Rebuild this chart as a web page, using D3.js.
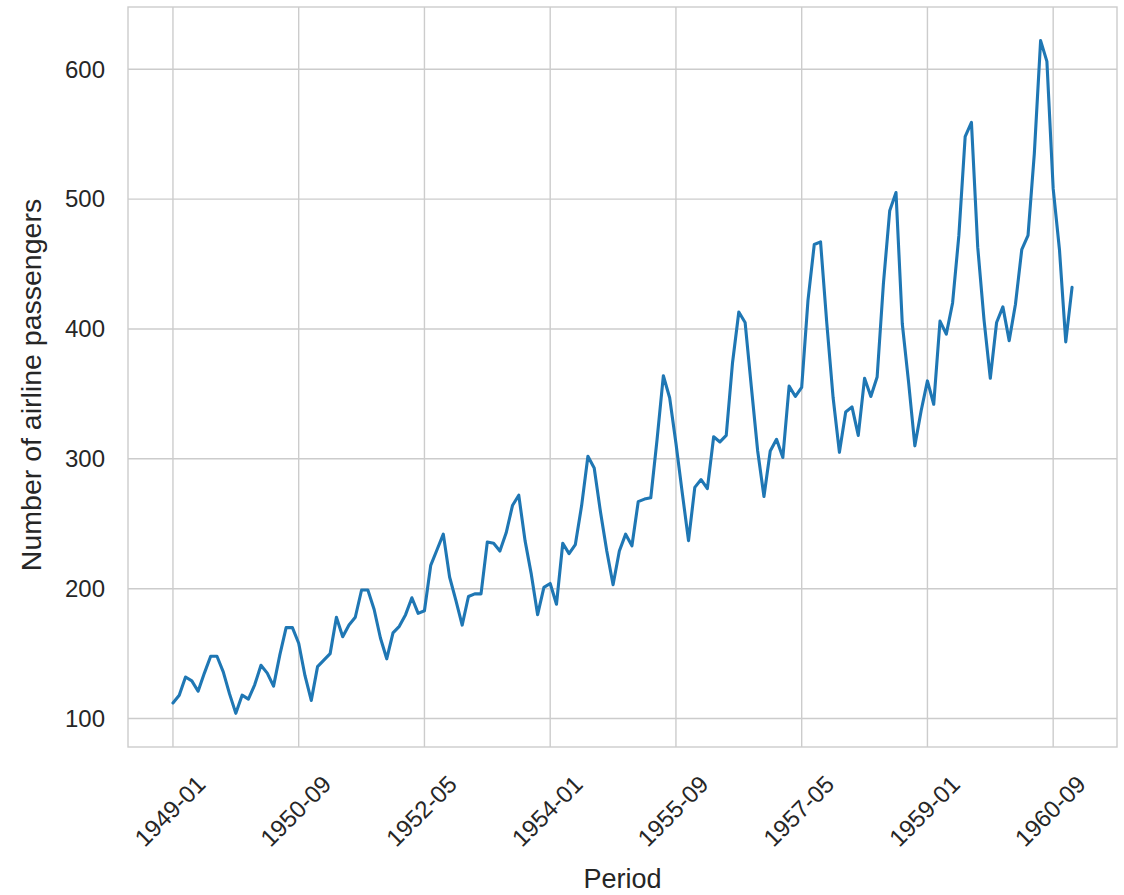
<!DOCTYPE html>
<html>
<head>
<meta charset="utf-8">
<script src="https://cdn.jsdelivr.net/npm/d3@7"></script>
<style>
  body { margin: 0; background: #fff; }
  text { font-family: "Liberation Sans", Arial, sans-serif; fill: #262626; }
</style>
</head>
<body>
<div id="chart"></div>
<script>
// Monthly airline passengers, 1949-01 .. 1960-12
var years = d3.range(1949, 1961);
var months = ["01","02","03","04","05","06","07","08","09","10","11","12"];
var periods = [];
years.forEach(function(y){ months.forEach(function(m){ periods.push(y + "-" + m); }); });

var passengers = [
  112, 118, 132, 129, 121, 135, 148, 148, 136, 119, 104, 118,
  115, 126, 141, 135, 125, 149, 170, 170, 158, 133, 114, 140,
  145, 150, 178, 163, 172, 178, 199, 199, 184, 162, 146, 166,
  171, 180, 193, 181, 183, 218, 230, 242, 209, 191, 172, 194,
  196, 196, 236, 235, 229, 243, 264, 272, 237, 211, 180, 201,
  204, 188, 235, 227, 234, 264, 302, 293, 259, 229, 203, 229,
  242, 233, 267, 269, 270, 315, 364, 347, 312, 274, 237, 278,
  284, 277, 317, 313, 318, 374, 413, 405, 355, 306, 271, 306,
  315, 301, 356, 348, 355, 422, 465, 467, 404, 347, 305, 336,
  340, 318, 362, 348, 363, 435, 491, 505, 404, 359, 310, 337,
  360, 342, 406, 396, 420, 472, 548, 559, 463, 407, 362, 405,
  417, 391, 419, 461, 472, 535, 622, 606, 508, 461, 390, 432
];

var xTickLabels = ["1949-01","1950-09","1952-05","1954-01","1955-09","1957-05","1959-01","1960-09"];
var yTicks = [100, 200, 300, 400, 500, 600];

var svgWidth = 1124;
var svgHeight = 895;
var margin = { top: 7, right: 7, bottom: 148, left: 128 };
var width = svgWidth - margin.left - margin.right;
var height = svgHeight - margin.top - margin.bottom;

var svg = d3.select("#chart")
    .append("svg")
    .attr("width", svgWidth)
    .attr("height", svgHeight);

var chartGroup = svg.append("g")
    .attr("transform", `translate(${margin.left}, ${margin.top})`);

// matplotlib-like 5% margins
var n = passengers.length - 1;
var xScale = d3.scaleLinear()
    .domain([-0.05 * n, n * 1.05])
    .range([0, width]);
var yMin = d3.min(passengers), yMax = d3.max(passengers);
var pad = (yMax - yMin) * 0.05;
var yScale = d3.scaleLinear()
    .domain([yMin - pad, yMax + pad])
    .range([height, 0]);

var gridColor = "#cccccc";

// grid lines
chartGroup.selectAll(".ygrid")
    .data(yTicks)
    .enter()
    .append("line")
    .attr("x1", 0).attr("x2", width)
    .attr("y1", d => yScale(d)).attr("y2", d => yScale(d))
    .attr("stroke", gridColor)
    .attr("stroke-width", 1.4);

chartGroup.selectAll(".xgrid")
    .data(xTickLabels)
    .enter()
    .append("line")
    .attr("x1", d => xScale(periods.indexOf(d))).attr("x2", d => xScale(periods.indexOf(d)))
    .attr("y1", 0).attr("y2", height)
    .attr("stroke", gridColor)
    .attr("stroke-width", 1.4);

// frame
chartGroup.append("rect")
    .attr("width", width)
    .attr("height", height)
    .attr("fill", "none")
    .attr("stroke", gridColor)
    .attr("stroke-width", 1.4);

// y tick labels
chartGroup.selectAll(".ylab")
    .data(yTicks)
    .enter()
    .append("text")
    .attr("x", -23)
    .attr("y", d => yScale(d))
    .attr("dy", "0.35em")
    .attr("text-anchor", "end")
    .attr("font-size", "24px")
    .text(d => d);

// x tick labels, rotated 45
chartGroup.selectAll(".xlab")
    .data(xTickLabels)
    .enter()
    .append("text")
    .attr("transform", d => `translate(${xScale(periods.indexOf(d)) - 3}, ${height + 64}) rotate(-45)`)
    .attr("dy", "0.35em")
    .attr("text-anchor", "middle")
    .attr("font-size", "24px")
    .text(d => d);

// axis titles
svg.append("text")
    .attr("x", margin.left + width / 2)
    .attr("y", 888)
    .attr("text-anchor", "middle")
    .attr("font-size", "27px")
    .text("Period");

svg.append("text")
    .attr("transform", `translate(41, 385) rotate(-90)`)
    .attr("text-anchor", "middle")
    .attr("font-size", "28.5px")
    .text("Number of airline passengers");

// the series
var line = d3.line()
    .x((d, i) => xScale(i))
    .y(d => yScale(d));

chartGroup.append("path")
    .datum(passengers)
    .attr("d", line)
    .attr("fill", "none")
    .attr("stroke", "#1f77b4")
    .attr("stroke-width", 3.1)
    .attr("stroke-linejoin", "round")
    .attr("stroke-linecap", "round");
</script>
</body>
</html>
